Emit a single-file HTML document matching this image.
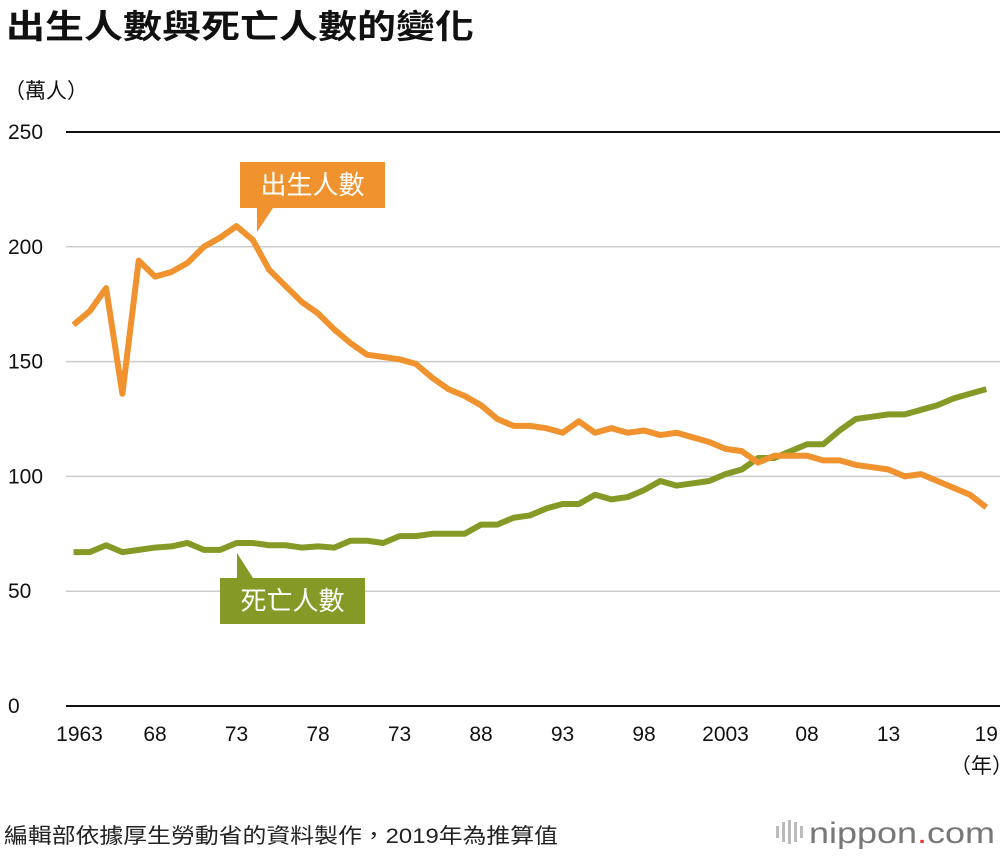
<!DOCTYPE html>
<html><head><meta charset="utf-8"><style>
body{margin:0;background:#fff;width:1000px;height:856px;overflow:hidden;font-family:"Liberation Sans","Noto Sans CJK TC",sans-serif}
</style></head><body>
<svg id="c" width="1000" height="856" xmlns="http://www.w3.org/2000/svg" style="font-family:'Liberation Sans','Noto Sans CJK TC',sans-serif">
<text x="6" y="38" font-size="33" font-weight="bold" fill="#111" textLength="468" lengthAdjust="spacingAndGlyphs">出生人數與死亡人數的變化</text>
<text x="4" y="98" font-size="21" fill="#111">（萬人）</text>
<text x="950" y="773" font-size="21" fill="#111">（年）</text>
<text x="4" y="843" font-size="21" fill="#222" textLength="554" lengthAdjust="spacingAndGlyphs">編輯部依據厚生勞動省的資料製作，2019年為推算值</text>
<g id="logo">
<g fill="#bbb">
<rect x="776" y="826" width="3" height="12"/><rect x="782" y="822" width="3" height="20"/><rect x="788" y="820" width="3" height="24"/><rect x="794" y="822" width="3" height="20"/><rect x="800" y="826" width="3" height="12"/>
</g>
<text x="809" y="843" font-size="30" fill="#777" textLength="186" lengthAdjust="spacingAndGlyphs">nippon<tspan fill="#e33">.</tspan>com</text>
</g>
<g id="grid"></g><g id="lines"></g>
</svg>
<script>
const years=[];for(let y=1963;y<=2019;y++)years.push(y);
const births=[166,172,182,136,194,187,189,193,200,204,209,203,190,183,176,171,164,158,153,152,151,149,143,138,135,131,125,122,122,121,119,124,119,121,119,120,118,119,117,115,112,111,106,109,109,109,107,107,105,104,103,100,101,98,95,92,86.5];
const deaths=[67,67,70,67,68,69,69.5,71,68,68,71,71,70,70,69,69.5,69,72,72,71,74,74,75,75,75,79,79,82,83,86,88,88,92,90,91,94,98,96,97,98,101,103,108,108,111,114,114,120,125,126,127,127,129,131,134,136,138];
const yTicks=[0,50,100,150,200,250];
const xTickYears=[1963,1968,1973,1978,1983,1988,1993,1998,2003,2008,2013,2019];
const xTickLabels=["1963","68","73","78","73","88","93","98","2003","08","13","19"];
const X=y=>73.5+(y-1963)*16.3, Y=v=>706-v*2.296;
const NS="http://www.w3.org/2000/svg";
const grid=document.getElementById('grid'),lines=document.getElementById('lines');
function mk(t,a,p){const e=document.createElementNS(NS,t);for(const k in a)e.setAttribute(k,a[k]);p.appendChild(e);return e;}
yTicks.forEach(v=>{
 const l=mk('line',{x1:66,x2:1000,y1:Y(v),y2:Y(v),stroke:(v===0||v===250)?'#111':'#ccc','stroke-width':(v===0||v===250)?2:1.5},grid);
 
 
 const t=mk('text',{x:8,y:Y(v)+7,'font-size':21,fill:'#111'},grid);t.textContent=v;
 
 
});
xTickYears.forEach((yr,i)=>{
 const t=mk('text',{x:X(yr)+(i===0?6:0),y:741,'font-size':21,fill:'#111','text-anchor':'middle'},grid);t.textContent=xTickLabels[i];
 
 
});
function series(d,c,n){const p=mk('polyline',{points:d.map((v,i)=>X(years[i])+','+Y(v)).join(' '),fill:'none',stroke:c,'stroke-width':6,'stroke-linejoin':'round'},lines);
 
 }
series(deaths,'#859a26','deaths-line');
series(births,'#f0922e','births-line');
function label(x,y,w,txt,c,px,py,up,n){
 const g=mk('g',{},lines);
 
 
 mk('rect',{x:x,y:y,width:w,height:46,fill:c},g);
 const ty=up?y:y+46;
 mk('polygon',{points:`${px},${ty} ${px+16},${ty} ${px},${py}`,fill:c},g);
 const t=mk('text',{x:x+w/2,y:y+32,'font-size':26,fill:'#fff','text-anchor':'middle'},g);t.textContent=txt;
}
label(240,162,145,'出生人數','#f0922e',257,232,false,'births-label');
label(220,578,145,'死亡人數','#859a26',237,553,true,'deaths-label');
</script>
</body></html>
